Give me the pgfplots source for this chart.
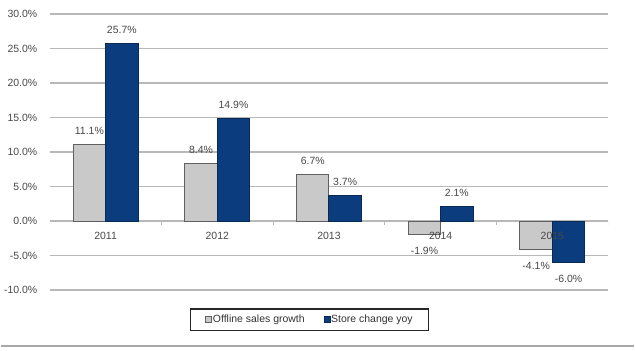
\documentclass[border=0pt]{standalone}
\usepackage{pgfplots}
\pgfplotsset{compat=1.18}
\usepackage{fontspec}
\setmainfont{Liberation Sans}
\definecolor{navy}{HTML}{0B3D7E}
\definecolor{navyedge}{HTML}{082A55}
\definecolor{bargray}{HTML}{C9C9C9}
\definecolor{baredge}{HTML}{606060}
\definecolor{gridgray}{HTML}{B8B8B8}
\definecolor{textgray}{HTML}{474747}
\definecolor{ruleGray}{HTML}{A8A8A8}
\pgfplotsset{
  layers/labels on top/.define layer set={
    axis background,axis grid,axis ticks,axis lines,main,axis tick labels,axis descriptions,axis foreground
  }{/pgfplots/layers/standard},
}
\begin{document}
\begin{tikzpicture}
\path (0,0) rectangle (635pt,351pt);
\draw[color=ruleGray, line width=1.8pt] (0,4pt) -- (635pt,4pt);
\begin{axis}[
  set layers=labels on top,
  at={(49pt,60pt)}, anchor=south west,
  scale only axis, width=560pt, height=277pt,
  xmin=-0.5, xmax=4.5, ymin=-10, ymax=30,
  ybar=0pt, bar width=32.5pt,
  xtick={0,1,2,3,4}, xticklabels={2011,2012,2013,2014,2015},
  ytick={-10,-5,0,5,10,15,20,25,30},
  ymajorgrids, grid style={line width=1.5pt, color=gridgray},
  axis line style={draw=none},
  major tick length=0pt,
  tick label style={font=\fontsize{10.5}{12}\selectfont, text=textgray},
  /pgf/number format/assume math mode=true,
  yticklabel={\pgfmathprintnumber[fixed,fixed zerofill,precision=1]{\tick}\%},
  yticklabel style={xshift=-9pt},
  xticklabel style={yshift=62pt},
  nodes near coords={\pgfmathprintnumber[fixed,fixed zerofill,precision=1,assume math mode=true]{\pgfplotspointmeta}\%},
  nodes near coords align=vertical,
  every node near coord/.append style={font=\fontsize{10.5}{12}\selectfont, text=textgray, inner ysep=11pt, inner xsep=0pt, yshift=-1.5pt},
  legend columns=2,
  legend style={at={(0.4652,-0.1065)}, anchor=center, draw=black!85, line width=1.2pt,
    inner xsep=15pt, inner ysep=5pt,
    font=\fontsize{10.5}{12}\selectfont, text=black!80,
    nodes={inner sep=1pt},
    /tikz/every even column/.append style={column sep=18pt}},
]
\addplot[fill=bargray, draw=baredge, line width=1pt,
  legend image code/.code={\draw[fill=bargray, draw=baredge, line width=0.6pt] (0pt,-3pt) rectangle (6pt,3pt);}]
  coordinates {(0,11.1) (1,8.4) (2,6.7) (3,-1.9) (4,-4.1)};
\addlegendentry{Offline sales growth}
\addplot[fill=navy, draw=navyedge, line width=1pt,
  legend image code/.code={\draw[fill=navy, draw=navyedge, line width=0.6pt] (0pt,-3pt) rectangle (6pt,3pt);}]
  coordinates {(0,25.7) (1,14.9) (2,3.7) (3,2.1) (4,-6.0)};
\addlegendentry{Store change yoy}
\pgfplotsinvokeforeach{-0.5,0.5,1.5,2.5,3.5,4.5}{
  \draw[gridgray, line width=1pt] (axis cs:#1,0) -- ([yshift=-4pt]axis cs:#1,0);
}
\end{axis}
\end{tikzpicture}
\end{document}
